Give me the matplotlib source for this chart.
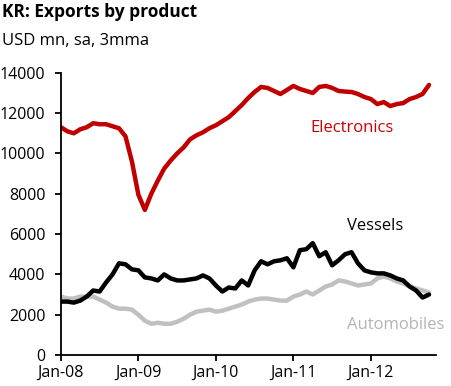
import numpy as np
from matplotlib import pyplot as plt

plt.rcParams['font.family'] = ['Open Sans', 'DejaVu Sans']

# monthly, Jan-08 .. Oct-12 (USD mn, sa, 3mma)
electronics = [11300, 11100, 11000, 11200, 11300, 11500, 11450, 11450, 11350, 11250,
               10850, 9600, 7950, 7200, 8000, 8650, 9250, 9650, 10000, 10300,
               10700, 10900, 11050, 11250, 11400, 11600, 11800, 12100, 12400, 12750,
               13050, 13300, 13250, 13100, 12950, 13150, 13350, 13200, 13100, 13000,
               13300, 13350, 13250, 13100, 13070, 13050, 12950, 12800, 12700, 12450,
               12550, 12350, 12450, 12500, 12700, 12800, 12950, 13400]
vessels = [2650, 2650, 2600, 2700, 2900, 3200, 3150, 3600, 4000, 4550,
           4500, 4250, 4200, 3850, 3800, 3700, 4000, 3800, 3700, 3700,
           3750, 3800, 3950, 3800, 3450, 3150, 3350, 3300, 3700, 3450,
           4200, 4650, 4500, 4650, 4700, 4800, 4350, 5200, 5250, 5550,
           4900, 5100, 4450, 4700, 5000, 5100, 4550, 4200, 4100, 4050,
           4050, 3950, 3800, 3700, 3400, 3200, 2850, 3000]
automobiles = [2900, 2800, 2800, 2900, 2900, 2900, 2750, 2600, 2400, 2300,
               2300, 2250, 2000, 1700, 1550, 1600, 1550, 1550, 1650, 1800,
               2000, 2150, 2200, 2250, 2150, 2200, 2300, 2400, 2500, 2650,
               2750, 2800, 2800, 2750, 2700, 2700, 2900, 3000, 3150, 3000,
               3200, 3400, 3500, 3700, 3650, 3550, 3450, 3500, 3550, 3800,
               3900, 3800, 3650, 3550, 3400, 3300, 3200, 3100]
tick_labels = ["Jan-08", "Jan-09", "Jan-10", "Jan-11", "Jan-12"]

months = np.arange(len(electronics))

fig = plt.figure(figsize=(4.51, 3.86), dpi=100)
ax = fig.add_axes([0.135, 0.0803, 0.832, 0.731])

ax.plot(months, automobiles, color="#c0c0c0", lw=3.2, solid_capstyle="round")
ax.plot(months, vessels, color="black", lw=3.2, solid_capstyle="round")
ax.plot(months, electronics, color="#c00000", lw=3.2, solid_capstyle="round")

ax.set_xlim(0, 58.1)
ax.set_ylim(0, 14000)
ax.set_yticks(range(0, 14001, 2000))
ax.set_xticks(np.arange(0, 60, 12))
ax.set_xticklabels(tick_labels)

for s in ["top", "right"]:
    ax.spines[s].set_visible(False)
for s in ["left", "bottom"]:
    ax.spines[s].set_linewidth(1.3)
ax.tick_params(direction="out", length=4, width=1.3, labelsize=11.5)
ax.tick_params(axis="y", pad=7)
ax.tick_params(axis="x", pad=3)

ax.text(38.6, 11270, "Electronics", color="#cc0000", fontsize=12, va="center")
ax.text(44.3, 6400, "Vessels", color="black", fontsize=12, va="center")
ax.text(44.3, 1500, "Automobiles", color="#b4b4b4", fontsize=12, va="center")

fig.text(0.004, 0.968, "KR: Exports by product", fontsize=12.5, fontweight="bold", va="center")
fig.text(0.004, 0.893, "USD mn, sa, 3mma", fontsize=12, va="center")

fig.savefig("out.png", dpi=100)
